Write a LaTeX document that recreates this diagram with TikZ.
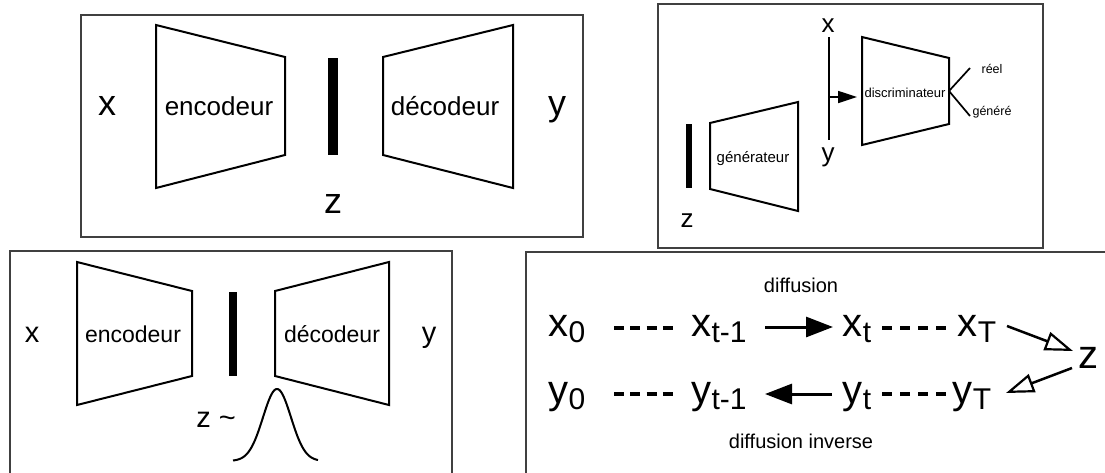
\documentclass[tikz,border=0pt]{standalone}
\usepackage{fontspec}
\setmainfont{Liberation Sans}
\usetikzlibrary{arrows.meta}
\newcommand\fsz[1]{\fontsize{#1pt}{#1pt}\selectfont}
\newcommand\sbs[1]{\raisebox{-6pt}{\fsz{30}#1}}
\tikzset{
  panel/.style={draw=black!75, line width=1.2pt},
  trap/.style={draw=black, line width=2pt, line join=miter},
  lbl/.style={inner sep=0pt, anchor=base},
  big/.style={lbl, font=\fsz{40}},
  thin/.style={line width=1.7pt},
  dashL/.style={line width=3.5pt, dash pattern=on 10pt off 6.33pt},
  dashR/.style={line width=3.5pt, dash pattern=on 10pt off 8pt},
  fillarrow/.style={line width=3pt, -{Triangle[length=27pt,width=20pt]}},
  openarrow/.style={line width=2.5pt, -{Triangle[open,length=28pt,width=19pt,line width=2.2pt]}},
}
\begin{document}
\begin{tikzpicture}[x=1pt,y=-1pt]
\useasboundingbox (0,0) rectangle (1105,472);
\fill[white] (0,0) rectangle (1105,472);
\clip (0,0) rectangle (1105,472);

% ---------- Panel 1: autoencoder ----------
\draw[panel] (81,15) rectangle (583,237);
\draw[trap] (156,25) -- (285,57) -- (285,155) -- (156,188) -- cycle;
\fill (328,58) rectangle (338,155);
\draw[trap] (383,57) -- (513,25) -- (513,188) -- (383,155) -- cycle;
\node[lbl, font=\fsz{36}] (x1) at (107,115) {x};
\node[lbl, font=\fsz{36}] (y1) at (557,115) {y};
\node[lbl, font=\fsz{36}] (z1) at (333,213) {z};
\node[lbl, font=\fsz{26}] (enc1) at (219,115) {encodeur};
\node[lbl, font=\fsz{26}] (dec1) at (445,115) {décodeur};

% ---------- Panel 2: GAN ----------
\draw[panel] (658,4) rectangle (1043,248);
\fill (686,124) rectangle (692,188);
\draw[trap] (710,123) -- (798,102) -- (798,211) -- (710,189) -- cycle;
\node[lbl, font=\fsz{15}] (gen) at (753,162) {générateur};
\coordinate (vt) at (829,37);
\coordinate (vb) at (829,140);
\draw[thin] (vt) -- (vb);
\node[lbl, font=\fsz{26}] (x2) at (828,32) {x};
\node[lbl, font=\fsz{26}] (y2) at (828,161) {y};
\node[lbl, font=\fsz{26}] (z2) at (687,227) {z};
\coordinate (amid) at (829,97);
\coordinate (atip) at (857,97);
\draw[thin, -{Triangle[length=19pt,width=12pt]}] (amid) -- (atip);
\draw[trap] (862,37) -- (949,58) -- (949,124) -- (862,145) -- cycle;
\node[lbl, font=\fsz{13}] (disc) at (905,97) {discriminateur};
\coordinate (dout) at (949,91);
\coordinate (rend) at (970,68);
\coordinate (gend) at (970,116);
\draw[thin] (rend) -- (dout) -- (gend);
\node[lbl, font=\fsz{12.5}] (reel) at (992,73) {réel};
\node[lbl, font=\fsz{12.5}] (genere) at (992,115) {généré};

% ---------- Panel 3: VAE ----------
\draw[panel] (10,476) -- (10,251) -- (452,251) -- (452,476);
\draw[trap] (77,262) -- (192,291) -- (192,376) -- (77,405) -- cycle;
\fill (229,292) rectangle (237,376);
\draw[trap] (275,291) -- (389,262) -- (389,405) -- (275,376) -- cycle;
\node[lbl, font=\fsz{29}] (x3) at (32,342) {x};
\node[lbl, font=\fsz{29}] (y3) at (429,342) {y};
\node[lbl, font=\fsz{23}] (enc3) at (133,342) {encodeur};
\node[lbl, font=\fsz{23}] (dec3) at (332,342) {décodeur};
\node[lbl, font=\fsz{29}] (z3) at (216,427) {z \char"007E};
\draw[line width=2pt, line join=round]
  plot[domain=-44:41, samples=100] ({277+\x},{461-72*exp(-(\x*\x)/392)});

% ---------- Panel 4: diffusion ----------
\draw[panel] (526,476) -- (526,252) -- (1108,252);
\node[lbl, font=\fsz{20}] (diff) at (801,292) {diffusion};
\node[lbl, font=\fsz{20}] (diffinv) at (801,448) {diffusion inverse};

\node[big] (x0) at (567,336) {x\sbs{0}};
\node[big] (xtm) at (719,336) {x\sbs{t-1}};
\node[big] (xt) at (857,336) {x\sbs{t}};
\node[big] (xT) at (977,336) {x\sbs{T}};
\node[big] (z4) at (1088,368) {z};
\node[big] (y0) at (567,403) {y\sbs{0}};
\node[big] (ytm) at (719,403) {y\sbs{t-1}};
\node[big] (yt) at (857,403) {y\sbs{t}};
\node[big] (yT) at (972,403) {y\sbs{T}};

\coordinate (d1a) at (614,328); \coordinate (d1b) at (673,328);
\coordinate (d2a) at (882,328); \coordinate (d2b) at (946,328);
\coordinate (d3a) at (614,394); \coordinate (d3b) at (673,394);
\coordinate (d4a) at (882,394); \coordinate (d4b) at (946,394);
\draw[dashL] (d1a) -- (d1b);
\draw[dashR] (d2a) -- (d2b);
\draw[dashL] (d3a) -- (d3b);
\draw[dashR] (d4a) -- (d4b);

\coordinate (f1a) at (765,327); \coordinate (f1b) at (833,327);
\draw[fillarrow] (f1a) -- (f1b);
\coordinate (f2a) at (832,394); \coordinate (f2b) at (765,394);
\draw[fillarrow] (f2a) -- (f2b);

\coordinate (o1a) at (1007,326); \coordinate (o1b) at (1073,351);
\draw[openarrow] (o1a) -- (o1b);
\coordinate (o2a) at (1072,368); \coordinate (o2b) at (1006,393);
\draw[openarrow] (o2a) -- (o2b);
\end{tikzpicture}
\end{document}
